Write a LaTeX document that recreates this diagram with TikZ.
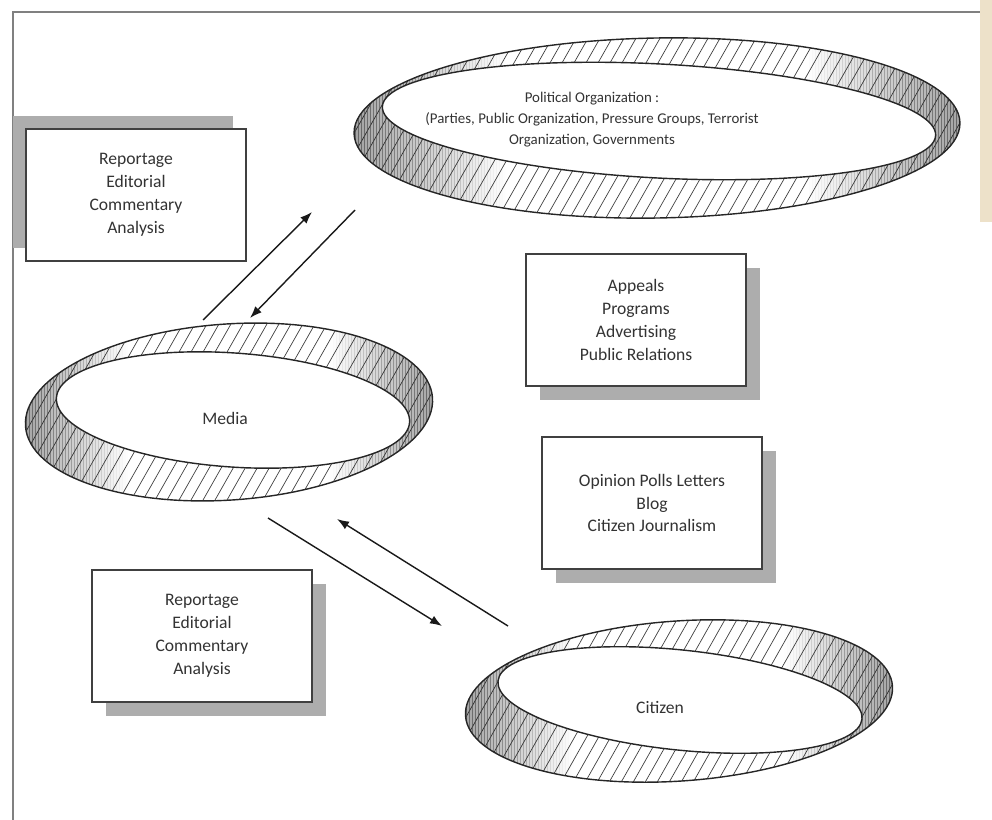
\documentclass[tikz,border=0pt]{standalone}
\usepackage{fontspec}
\setmainfont{Carlito}
\usepackage{xcolor}
\usetikzlibrary{arrows.meta,shadows}

\definecolor{txt}{HTML}{333333}
\definecolor{beige}{HTML}{EDE1C9}

% twisted ring: #1,#2 centre, #3/#4 outer radii, #5 outer tilt,
% #6/#7 inner radii, #8 inner tilt, #9 inner offset
\newcommand\mobring[9]{%
\begin{scope}[shift={(#1,#2)}]
 \begin{scope}
  \clip[rotate=#5] (0,0) ellipse [x radius=#3, y radius=#4];
  \foreach \k in {-34,...,34}
   \draw[hatch] ({\k*12-0.6*#4},{#4+5}) -- ({\k*12+0.6*#4},{-#4-5});
  % darker, denser ends
  \foreach \s in {-1,1} {
   \foreach \v in {0,3,...,159} {
    \pgfmathsetmacro\op{max(0,0.75*(1-\v/(0.5*#3+8)))}
    \pgfmathsetmacro\fop{0.5*\op}
    \fill[black, fill opacity=\fop, xscale=\s] ({-#3-8+\v},{-#4-8}) rectangle ++(3,{2*#4+16});
    \draw[dense, draw opacity=\op, xscale=\s] ({-#3-8+\v},{-#4-8}) -- ++(0,{2*#4+16});
   }}
 \end{scope}
 \filldraw[rim, fill=white, shift={#9}, rotate=#8] (0,0) ellipse [x radius=#6, y radius=#7];
 \draw[rim, rotate=#5] (0,0) ellipse [x radius=#3, y radius=#4];
\end{scope}}

\begin{document}
\begin{tikzpicture}[x=0.025cm, y=-0.025cm, text=txt,
  hatch/.style={black!75, line width=0.5pt},
  dense/.style={black!70, line width=0.4pt},
  rim/.style={black!85, line width=1pt},
  boxcore/.style={draw=black!75, line width=1pt, fill=white, align=center,
    minimum width=5.5cm, minimum height=3.3cm, font=\fontsize{12.5}{16.3}\selectfont},
  box/.style={boxcore, drop shadow={shadow xshift=0.35cm, shadow yshift=-0.35cm, fill=black!32, opacity=1}},
  boxup/.style={boxcore, drop shadow={shadow xshift=-0.33cm, shadow yshift=0.33cm, fill=black!32, opacity=1}},
  ringtxt/.style={align=center, font=\fontsize{12.5}{16.3}\selectfont},
  link/.style={black!90, line width=1pt, -{Latex[length=3mm, width=2.2mm]}}]
\useasboundingbox (0,0) rectangle (992,820);
\fill[beige] (980,0) rectangle (992,222);
\draw[black!50, line width=1.5pt] (13,820) -- (13,12) -- (980,12);

% rings
\mobring{657}{128}{303}{90}{1}{277}{57}{-3}{(2,-7)}
\mobring{229}{412}{204}{88}{4}{177}{57}{-4}{(4,-2)}
\mobring{679}{701}{214}{80}{4}{183}{50}{-6}{(1,-1)}

\node[ringtxt, font=\fontsize{10.6}{15}\selectfont] (political) at (592,120)
  {Political Organization :\\(Parties, Public Organization, Pressure Groups, Terrorist\\Organization, Governments};
\node[ringtxt] (media) at (225,418) {Media};
\node[ringtxt] (citizen) at (660,707) {Citizen};

% boxes
\node[boxup] (mediaout) at (136,195) {Reportage\\Editorial\\Commentary\\Analysis};
\node[box] (polout) at (636,320) {Appeals\\Programs\\Advertising\\Public Relations};
\node[box] (citout) at (652,503) {Opinion Polls Letters\\Blog\\Citizen Journalism};
\node[box] (mediaout2) at (202,636) {Reportage\\Editorial\\Commentary\\Analysis};

% arrows
\coordinate (m1) at (203,320);
\coordinate (p1) at (312,212);
\coordinate (p2) at (355,210);
\coordinate (m2) at (250,318);
\coordinate (m3) at (268,518);
\coordinate (c1) at (442,626);
\coordinate (c2) at (508,626);
\coordinate (m4) at (337,519);
\foreach \a/\b in {m1/p1,p2/m2,m3/c1,c2/m4} \draw[link] (\a) -- (\b);
\end{tikzpicture}
\end{document}
